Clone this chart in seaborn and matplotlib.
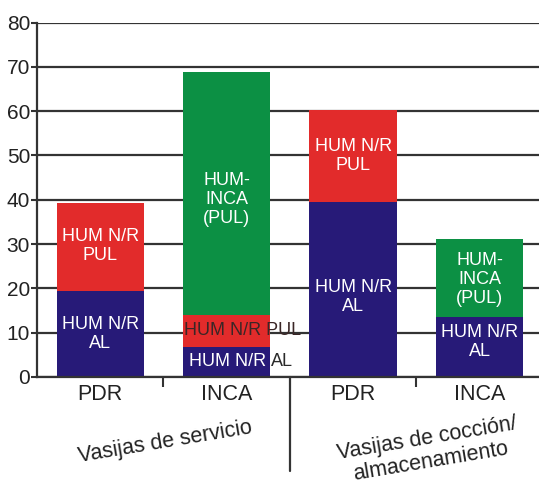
import numpy as np
import pandas as pd
import matplotlib
matplotlib.use("Agg")
import matplotlib.pyplot as plt
import seaborn as sns

# Bar groups and their stacked components (%)
keys = ["PDR_s", "INCA_s", "PDR_c", "INCA_c"]
tick_labels = ["PDR", "INCA", "PDR", "INCA"]
hum_nr_al = [19.3, 6.8, 39.6, 13.6]
hum_nr_pul = [19.9, 7.2, 20.7, 0.0]
hum_inca_pul = [0.0, 54.9, 0.0, 17.5]
group_labels = ["Vasijas de servicio", "Vasijas de cocción/\nalmacenamiento"]
y_ticks = [0, 10, 20, 30, 40, 50, 60, 70, 80]

c_blue = "#271a78"
c_red = "#e22b2b"
c_green = "#0c9044"

sns.set_theme(style="white")
plt.rcParams["font.family"] = ["Liberation Sans", "DejaVu Sans"]

al = np.array(hum_nr_al)
pul = al + np.array(hum_nr_pul)
top = pul + np.array(hum_inca_pul)
df = pd.DataFrame({"key": keys, "al": al, "pul": pul, "top": top})

fig = plt.figure(figsize=(5.39, 4.80), dpi=100)
ax = fig.add_axes([37 / 539, 103 / 480, 1 - 37 / 539, 354.5 / 480])

bw = 0.69
sns.barplot(data=df, x="key", y="top", order=keys, color=c_green, saturation=1,
            width=bw, linewidth=0, ax=ax, errorbar=None)
sns.barplot(data=df, x="key", y="pul", order=keys, color=c_red, saturation=1,
            width=bw, linewidth=0, ax=ax, errorbar=None)
sns.barplot(data=df, x="key", y="al", order=keys, color=c_blue, saturation=1,
            width=bw, linewidth=0, ax=ax, errorbar=None)

ax.set_xlim(-0.5, 3.47)
ax.set_ylim(0, 80)
ax.set_yticks(y_ticks)
ax.set_yticklabels([str(v) for v in y_ticks], fontsize=15, color="#222222")
ax.set_xticks(range(len(keys)))
ax.set_xticklabels(tick_labels, fontsize=15.5, color="#222222")
ax.set_xlabel("")
ax.set_ylabel("")
ax.tick_params(axis="x", length=0, pad=5)
ax.tick_params(axis="y", length=4, width=1.5, color="#333333", pad=1, left=True)
ax.set_xticks([0.5, 2.5], minor=True)
ax.tick_params(axis="x", which="minor", length=7, width=1.5, color="#333333",
               direction="out", bottom=True)

ax.yaxis.grid(True, color="#333333", linewidth=1.6)
ax.set_axisbelow(True)
for s in ["top", "right"]:
    ax.spines[s].set_visible(False)
for s in ["left", "bottom"]:
    ax.spines[s].set_color("#333333")
    ax.spines[s].set_linewidth(1.6)

# separator between vessel groups
ax.axvline(1.5, ymin=-0.265, ymax=0, color="#333333", linewidth=1.6, clip_on=False)

# bar labels
lab = dict(color="white", fontsize=13, ha="center", va="center", linespacing=1.17)
ax.text(0, (pul[0] + al[0]) / 2 + 0.3, "HUM N/R\nPUL", **lab)
ax.text(0, al[0] / 2, "HUM N/R\nAL", **lab)
ax.text(1, 40, "HUM-\nINCA\n(PUL)", **lab)
ax.text(2, (pul[2] + al[2]) / 2, "HUM N/R\nPUL", **lab)
ax.text(2, 18, "HUM N/R\nAL", **lab)
ax.text(3, (top[3] + pul[3]) / 2 - 0.4, "HUM-\nINCA\n(PUL)", **lab)
ax.text(3, al[3] / 2 + 1.1, "HUM N/R\nAL", **lab)

# narrow segments of the second bar: labels run past the bar edge
x_left = 1 - bw / 2 + 0.01
ax.text(x_left, (pul[1] + al[1]) / 2, "HUM N/R PUL", color="#3a2626",
        fontsize=13, ha="left", va="center")
t_in = ax.text(x_left + 0.04, al[1] / 2, "HUM N/R", color="white",
               fontsize=13, ha="left", va="center")
ax.annotate("AL", xy=(1, 0.5), xycoords=t_in, xytext=(3.5, 0),
            textcoords="offset points", color="#2a2a2a", fontsize=13,
            ha="left", va="center")

# group captions
ax.text(0.51, -0.183, group_labels[0], transform=ax.get_xaxis_transform(),
        fontsize=15.5, color="#222222", ha="center", va="center", rotation=9.5,
        rotation_mode="anchor")
ax.text(2.6, -0.207, group_labels[1], transform=ax.get_xaxis_transform(),
        fontsize=15.5, color="#222222", ha="center", va="center", rotation=9.5,
        rotation_mode="anchor", multialignment="center", linespacing=1.15)

fig.savefig("out.png", dpi=100)
